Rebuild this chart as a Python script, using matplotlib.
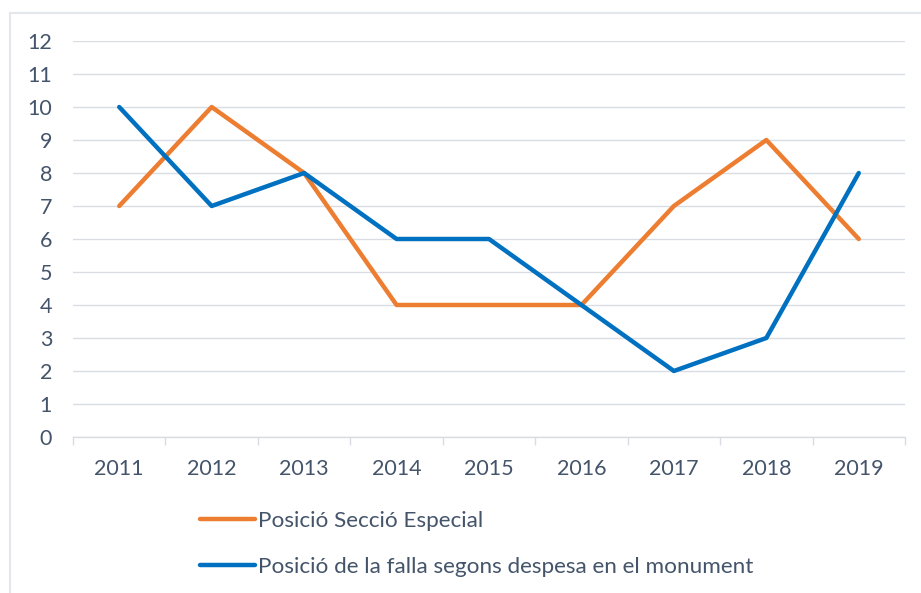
import matplotlib
matplotlib.use('Agg')
import matplotlib.pyplot as plt
import numpy as np

# ---------- data ----------
years = ['2011', '2012', '2013', '2014', '2015', '2016', '2017', '2018', '2019']
seccio_especial = [7, 10, 8, 4, 4, 4, 7, 9, 6]
despesa_monument = [10, 7, 8, 6, 6, 4, 2, 3, 8]

labels = ['Posició Secció Especial',
          'Posició de la falla segons despesa en el monument']

ORANGE = '#ED7D31'
BLUE = '#0070C0'
TEXT = '#44546A'
GRID = '#D9DDE3'
FS = 15.5
LEG_FS = 16.2

plt.rcParams['font.family'] = ['Lato', 'DejaVu Sans']

fig = plt.figure(figsize=(9.21, 5.93), dpi=100)
ax = fig.add_axes([73/921, 156/593, (905-73)/921, (437-41)/593])

x = np.arange(len(years))
ax.plot(x, seccio_especial, color=ORANGE, lw=3.2, label=labels[0],
        solid_joinstyle='round', solid_capstyle='round')
ax.plot(x, despesa_monument, color=BLUE, lw=3.2, label=labels[1],
        solid_joinstyle='round', solid_capstyle='round')

ax.set_xlim(-0.5, len(years) - 0.5)
ax.set_ylim(0, 12)
ax.set_yticks(range(13))
ax.set_xticks(x)
ax.set_xticklabels(years)
ax.set_xticks(np.arange(-0.5, len(years)), minor=True)

ax.grid(axis='y', color=GRID, lw=1)
ax.set_axisbelow(True)
for s in ['top', 'right', 'left']:
    ax.spines[s].set_visible(False)
ax.spines['bottom'].set_color(GRID)
ax.spines['bottom'].set_linewidth(1)

ax.tick_params(axis='y', length=0, pad=15, labelsize=FS, labelcolor=TEXT)
ax.tick_params(axis='x', which='major', length=0, pad=16, labelsize=FS, labelcolor=TEXT)
ax.tick_params(axis='x', which='minor', length=6, color=GRID, width=1)

leg = fig.legend(loc='upper left', bbox_to_anchor=(200/921, 1 - 511/593),
                 frameon=False, handlelength=2.45, handletextpad=0.12,
                 borderpad=0, borderaxespad=0,
                 labelspacing=1.15, fontsize=LEG_FS)
for t in leg.get_texts():
    t.set_color(TEXT)

# chart border lines
fig.add_artist(plt.Line2D([9.5/921, 9.5/921], [0, 1 - 13/593], color='#E3E7EC', lw=1.5))
fig.add_artist(plt.Line2D([9.5/921, 1], [1 - 13/593, 1 - 13/593], color='#E3E7EC', lw=1.5))

plt.savefig('out.png', dpi=100)
